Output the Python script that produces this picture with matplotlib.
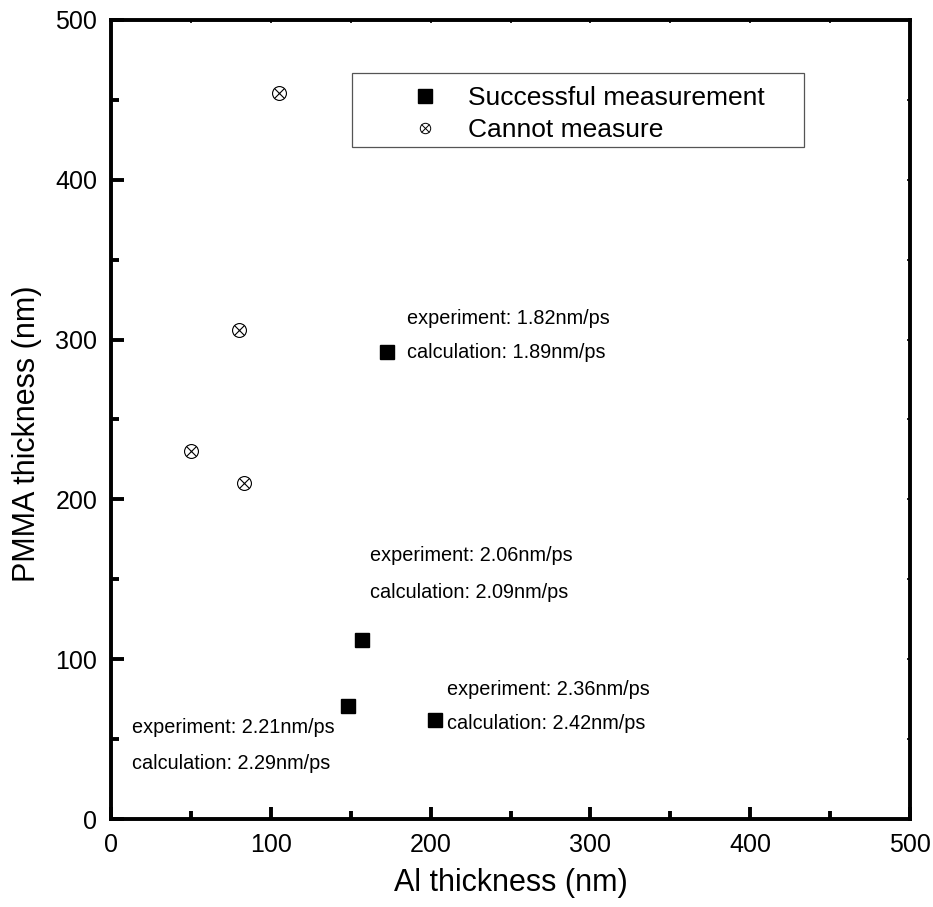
import matplotlib.pyplot as plt
from matplotlib.legend_handler import HandlerTuple
from matplotlib.lines import Line2D
from matplotlib.patches import Rectangle
from matplotlib.ticker import MultipleLocator

plt.rcParams['font.family'] = ['Liberation Sans', 'DejaVu Sans']

# medidas exitosas (Al, PMMA) en nm
al_ok = [173, 157, 148, 203]
pmma_ok = [292, 112, 71, 62]

# muestras donde no se pudo medir
al_no = [105, 80, 50, 83]
pmma_no = [454, 306, 230, 210]

# velocidades: texto y posición de cada etiqueta
etiquetas = [
    "experiment: 1.82nm/ps", "calculation: 1.89nm/ps",
    "experiment: 2.06nm/ps", "calculation: 2.09nm/ps",
    "experiment: 2.36nm/ps", "calculation: 2.42nm/ps",
    "experiment: 2.21nm/ps", "calculation: 2.29nm/ps",
]
etiq_x = [185, 185, 162, 162, 210, 210, 13, 13]
etiq_y = [313, 292, 165, 142, 81, 60, 57, 35]

fig = plt.figure(figsize=(9.33, 9.07), dpi=100)
ax = fig.add_axes([0.119, 0.097, 0.8564, 0.881])

ax.plot(al_ok, pmma_ok, 's', color='black', markersize=9.4, linestyle='none')
ax.plot(al_no, pmma_no, 'o', markersize=10, markerfacecolor='none',
        markeredgecolor='black', markeredgewidth=0.8, linestyle='none')
ax.plot(al_no, pmma_no, 'x', markersize=7, color='black',
        markeredgewidth=0.8, linestyle='none')

for t, x, y in zip(etiquetas, etiq_x, etiq_y):
    ax.text(x, y, t, fontsize=14.3, va='center', ha='left')

ax.set_xlim(0, 500)
ax.set_ylim(0, 500)
ax.xaxis.set_major_locator(MultipleLocator(100))
ax.xaxis.set_minor_locator(MultipleLocator(50))
ax.yaxis.set_major_locator(MultipleLocator(100))
ax.yaxis.set_minor_locator(MultipleLocator(50))

ax.tick_params(which='both', direction='in', labelsize=18, pad=10)
ax.tick_params(which='major', length=9, width=2.8)
ax.tick_params(which='minor', length=5.5, width=2.8)
for s in ax.spines.values():
    s.set_linewidth(2.8)

# marcas muy cortas arriba y a la derecha
tx = ax.twiny()
tx.set_xlim(ax.get_xlim())
tx.xaxis.set_major_locator(MultipleLocator(50))
tx.tick_params(direction='in', length=2, width=1.2, labeltop=False)
ty = ax.twinx()
ty.set_ylim(ax.get_ylim())
ty.yaxis.set_major_locator(MultipleLocator(50))
ty.tick_params(direction='in', length=2, width=1.2, labelright=False)

ax.set_xlabel("Al thickness (nm)", fontsize=22, labelpad=8)
ax.set_ylabel("PMMA thickness (nm)", fontsize=22)
ax.yaxis.set_label_coords(-0.087, 0.482)

# leyenda con marco propio
h_ok = Line2D([], [], marker='s', color='black', markersize=9.4, linestyle='none')
h_circ = Line2D([], [], marker='o', markersize=7.5, markerfacecolor='none',
                markeredgecolor='black', markeredgewidth=0.7, linestyle='none')
h_cruz = Line2D([], [], marker='x', markersize=5.3, color='black',
                markeredgewidth=0.7, linestyle='none')
leg = ax.legend([h_ok, (h_circ, h_cruz)], ["Successful measurement", "Cannot measure"],
                handler_map={tuple: HandlerTuple(ndivide=1, pad=0)},
                loc='center left', bbox_to_anchor=(0.357, 0.8825),
                fontsize=19, frameon=False, borderpad=0, borderaxespad=0,
                labelspacing=0.3, handlelength=2.2, handletextpad=0.53)
ax.add_patch(Rectangle((0.3016, 0.841), 0.566, 0.0926, transform=ax.transAxes,
                       fill=False, edgecolor='#555555', linewidth=0.9))

fig.savefig("out.png", dpi=100)
